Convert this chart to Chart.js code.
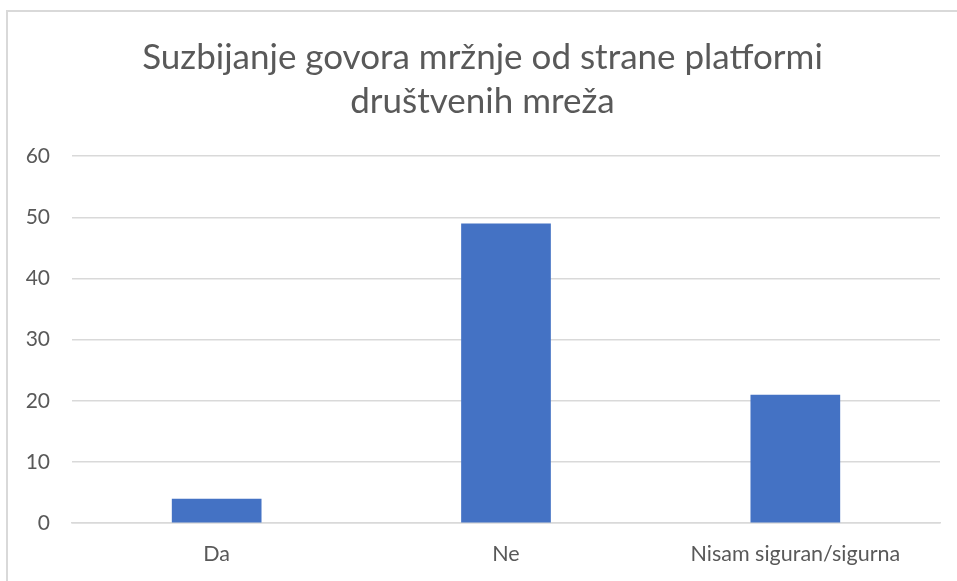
<!DOCTYPE html>
<html lang="hr">
<head>
  <meta charset="UTF-8">
  <title>Suzbijanje govora mržnje</title>
  <style>
    html, body { margin: 0; padding: 0; background: #fff; overflow: hidden; }
    .frame {
      position: absolute;
      left: 6px;
      top: 10px;
      width: 1000px;
      height: 700px;
      border: 2px solid #d9d9d9;
      box-sizing: border-box;
    }
    .chart-container {
      position: absolute;
      left: 0;
      top: 0;
      width: 967px;
      height: 589px;
    }
  </style>
</head>
<body>
  <div class="frame"></div>
  <div class="chart-container">
    <canvas id="chart"></canvas>
  </div>

  <script src="https://cdn.jsdelivr.net/npm/chart.js@4.4.0/dist/chart.umd.min.js"></script>
  <script>
    const categories = ['Da', 'Ne', 'Nisam siguran/sigurna'];
    const values = [4, 49, 21];
    const titleLines = ['Suzbijanje govora mržnje od strane platformi', 'društvenih mreža'];

    const ctx = document.getElementById('chart').getContext('2d');
    Chart.defaults.font.family = 'Lato, "Open Sans", sans-serif';
    Chart.defaults.color = '#595959';

    new Chart(ctx, {
      type: 'bar',
      data: {
        labels: categories,
        datasets: [{
          data: values,
          backgroundColor: '#4472C4',
          borderWidth: 0,
          categoryPercentage: 1,
          barPercentage: 0.31
        }]
      },
      options: {
        responsive: true,
        maintainAspectRatio: false,
        animation: false,
        layout: {
          padding: { left: 25, right: 27, top: 36, bottom: 4 }
        },
        scales: {
          y: {
            min: 0,
            max: 60,
            afterFit: (scale) => { scale.width = 47; },
            ticks: {
              stepSize: 10,
              padding: 22,
              font: { size: 21 },
              color: '#595959'
            },
            grid: {
              color: '#d9d9d9',
              lineWidth: 1.5,
              drawTicks: false
            },
            border: { display: false }
          },
          x: {
            ticks: {
              padding: 18,
              font: { size: 21.5 },
              color: '#595959'
            },
            grid: { display: false, drawTicks: false },
            border: { color: '#d9d9d9', width: 1.5 }
          }
        },
        plugins: {
          legend: { display: false },
          tooltip: { enabled: false },
          title: {
            display: true,
            text: titleLines,
            color: '#595959',
            font: { size: 35, weight: 'normal', lineHeight: 1.26 },
            padding: { top: 0, bottom: 32 }
          }
        }
      }
    });
  </script>
</body>
</html>
